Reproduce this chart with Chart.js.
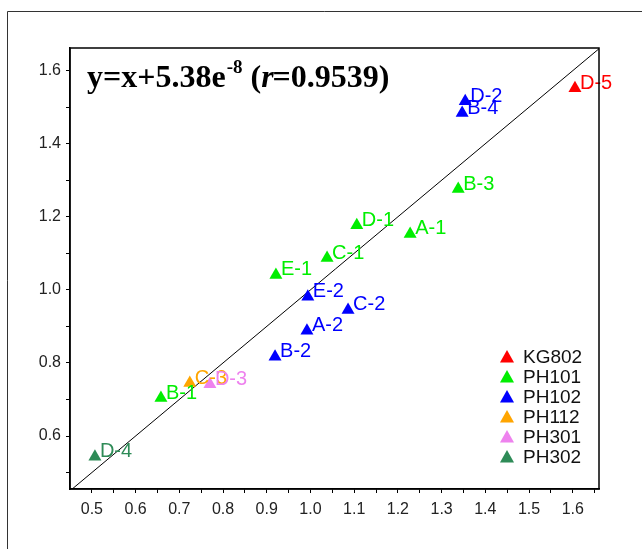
<!DOCTYPE html>
<html>
<head>
<meta charset="utf-8">
<script src="https://cdn.jsdelivr.net/npm/chart.js@4/dist/chart.umd.min.js"></script>
<style>
  body { margin: 0; background: #fff; }
  #wrap { width: 642px; height: 549px; position: relative; }
</style>
</head>
<body>
<div id="wrap"><canvas id="scatterChart"></canvas></div>
<script>
// groups (legend) and their colours
const groups = ['KG802', 'PH101', 'PH102', 'PH112', 'PH301', 'PH302'];
const groupColors = ['#ff0000', '#00ee00', '#0000ff', '#ffa500', '#ee82ee', '#2e8b57'];

// sample points
const pointNames  = ['D-5', 'D-2', 'B-4', 'B-3', 'D-1', 'A-1', 'C-1', 'E-1', 'E-2', 'C-2', 'A-2', 'B-2', 'C-3', 'D-3', 'B-1', 'D-4'];
const pointGroups = ['KG802', 'PH102', 'PH102', 'PH101', 'PH101', 'PH101', 'PH101', 'PH101', 'PH102', 'PH102', 'PH102', 'PH102', 'PH112', 'PH301', 'PH101', 'PH302'];
const xValues = [1.605, 1.354, 1.347, 1.338, 1.106, 1.228, 1.038, 0.921, 0.994, 1.086, 0.992, 0.919, 0.724, 0.770, 0.658, 0.507];
const yValues = [1.552, 1.516, 1.484, 1.276, 1.177, 1.153, 1.087, 1.041, 0.981, 0.945, 0.888, 0.817, 0.745, 0.742, 0.704, 0.543];

// ticks
const xTickValues = [0.5, 0.55, 0.6, 0.65, 0.7, 0.75, 0.8, 0.85, 0.9, 0.95, 1.0, 1.05, 1.1, 1.15, 1.2, 1.25, 1.3, 1.35, 1.4, 1.45, 1.5, 1.55, 1.6, 1.65];
const yTickValues = [0.5, 0.6, 0.7, 0.8, 0.9, 1.0, 1.1, 1.2, 1.3, 1.4, 1.5, 1.6];
const xMin = 0.45, xMax = 1.66, yMin = 0.455, yMax = 1.662;

const fitText = 'y=x+5.38e';

const datasets = groups.map(function (g, gi) {
  const pts = [];
  pointNames.forEach(function (n, i) {
    if (pointGroups[i] === g) pts.push({ x: xValues[i], y: yValues[i], name: n });
  });
  return {
    label: g,
    data: pts,
    backgroundColor: groupColors[gi],
    borderColor: groupColors[gi],
    pointStyle: 'triangle',
    pointRadius: 7.5,
    pointHoverRadius: 7.5,
    borderWidth: 0,
    order: 1
  };
});

// y = x reference line
datasets.push({
  type: 'line',
  label: 'fit',
  data: [{ x: 0.4, y: 0.4 }, { x: 1.7, y: 1.7 }],
  borderColor: '#000',
  borderWidth: 1,
  pointRadius: 0,
  fill: false,
  order: 2
});

const framePlugin = {
  id: 'frame',
  beforeDraw(chart) {
    const ctx = chart.ctx;
    ctx.save();
    ctx.strokeStyle = '#333';
    ctx.lineWidth = 1;
    ctx.beginPath();
    ctx.moveTo(7.5, 549);
    ctx.lineTo(7.5, 11.5);
    ctx.lineTo(642, 11.5);
    ctx.stroke();
    ctx.restore();
  },
  afterDraw(chart) {
    const a = chart.chartArea;
    const ctx = chart.ctx;
    ctx.save();
    ctx.strokeStyle = '#000';
    ctx.lineWidth = 1.5;
    ctx.strokeRect(a.left, a.top, a.right - a.left, a.bottom - a.top);

    // equation text
    ctx.fillStyle = '#000';
    ctx.textBaseline = 'alphabetic';
    let x = a.left + 17, y = 87;
    ctx.font = 'bold 32px "Liberation Serif", "Times New Roman", serif';
    ctx.fillText(fitText, x, y);
    x += ctx.measureText(fitText).width;
    ctx.font = 'bold 19px "Liberation Serif", "Times New Roman", serif';
    ctx.fillText('-8', x + 1, y - 14);
    x += ctx.measureText('-8').width + 1;
    ctx.font = 'bold 32px "Liberation Serif", "Times New Roman", serif';
    ctx.fillText(' (', x, y);
    x += ctx.measureText(' (').width;
    ctx.font = 'italic bold 32px "Liberation Serif", "Times New Roman", serif';
    ctx.fillText('r', x, y);
    x += ctx.measureText('r').width - 1;
    ctx.font = 'bold 32px "Liberation Serif", "Times New Roman", serif';
    ctx.fillText('=0.9539)', x, y);

    // legend inside plot
    ctx.font = '19px "Liberation Sans", Arial, sans-serif';
    ctx.textBaseline = 'middle';
    groups.forEach(function (g, gi) {
      const ly = 357 + gi * 20;
      const lx = 507;
      ctx.fillStyle = groupColors[gi];
      ctx.beginPath();
      ctx.moveTo(lx, ly - 7);
      ctx.lineTo(lx + 7, ly + 5.5);
      ctx.lineTo(lx - 7, ly + 5.5);
      ctx.closePath();
      ctx.fill();
      ctx.fillStyle = '#111';
      ctx.fillText(g, lx + 16, ly + 1);
    });
    ctx.restore();
  }
};

const pointLabelPlugin = {
  id: 'pointLabels',
  afterDatasetsDraw(chart) {
    const ctx = chart.ctx;
    ctx.save();
    ctx.font = '20px "Liberation Sans", Arial, sans-serif';
    ctx.textBaseline = 'middle';
    chart.data.datasets.forEach(function (ds, di) {
      if (ds.type === 'line') return;
      const meta = chart.getDatasetMeta(di);
      meta.data.forEach(function (el, i) {
        ctx.fillStyle = ds.backgroundColor;
        ctx.fillText(ds.data[i].name, el.x + 5, el.y - 5);
      });
    });
    ctx.restore();
  }
};

const ctx = document.getElementById('scatterChart').getContext('2d');
const chart = new Chart(ctx, {
  type: 'scatter',
  data: { datasets: datasets },
  plugins: [framePlugin, pointLabelPlugin],
  options: {
    responsive: true,
    maintainAspectRatio: false,
    animation: false,
    layout: {
      padding: { left: 8, top: 48, right: 43, bottom: 20 }
    },
    plugins: {
      legend: { display: false },
      tooltip: { enabled: false }
    },
    scales: {
      x: {
        type: 'linear',
        min: xMin,
        max: xMax,
        afterBuildTicks: function (axis) {
          axis.ticks = xTickValues.map(function (v) { return { value: v }; });
        },
        afterFit: function (axis) { axis.height = 40; },
        grid: {
          drawOnChartArea: false,
          drawTicks: true,
          tickLength: 4,
          color: '#000'
        },
        border: { display: true, color: '#000', width: 1.5 },
        ticks: {
          autoSkip: false,
          maxRotation: 0,
          padding: 7,
          color: '#222',
          font: { size: 16, family: '"Liberation Sans", Arial, sans-serif' },
          callback: function (v) {
            return Math.round(v * 100) % 10 === 0 ? v.toFixed(1) : '';
          }
        }
      },
      y: {
        type: 'linear',
        min: yMin,
        max: yMax,
        afterBuildTicks: function (axis) {
          axis.ticks = yTickValues.map(function (v) { return { value: v }; });
        },
        afterFit: function (axis) { axis.width = 62; },
        grid: {
          drawOnChartArea: false,
          drawTicks: true,
          tickLength: 4,
          color: '#000'
        },
        border: { display: true, color: '#000', width: 1.5 },
        ticks: {
          autoSkip: false,
          padding: 5,
          color: '#222',
          font: { size: 16, family: '"Liberation Sans", Arial, sans-serif' },
          callback: function (v) {
            return Math.round(v * 10) % 2 === 0 ? v.toFixed(1) : '';
          }
        }
      }
    }
  }
});
</script>
</body>
</html>
